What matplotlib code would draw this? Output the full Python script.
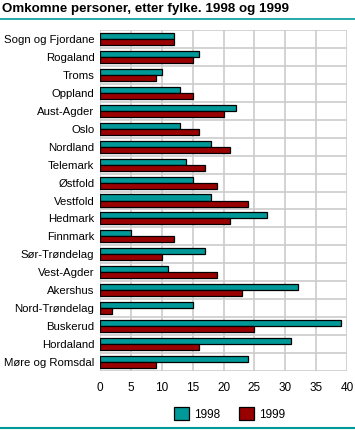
import numpy as np
import matplotlib
matplotlib.use("Agg")
import matplotlib.pyplot as plt
from matplotlib.lines import Line2D

plt.rcParams['font.family'] = ['Liberation Sans', 'DejaVu Sans']

# data (top to bottom as in the chart)
fylker = ["Sogn og Fjordane", "Rogaland", "Troms", "Oppland", "Aust-Agder", "Oslo",
          "Nordland", "Telemark", "Østfold", "Vestfold", "Hedmark", "Finnmark",
          "Sør-Trøndelag", "Vest-Agder", "Akershus", "Nord-Trøndelag", "Buskerud",
          "Hordaland", "Møre og Romsdal"]
v1998 = [12, 16, 10, 13, 22, 13, 18, 14, 15, 18, 27, 5, 17, 11, 32, 15, 39, 31, 24]
v1999 = [12, 15, 9, 15, 20, 16, 21, 17, 19, 24, 21, 12, 10, 19, 23, 2, 25, 16, 9]
xticks = [0, 5, 10, 15, 20, 25, 30, 35, 40]

teal = "#009999"
red = "#990000"

fig = plt.figure(figsize=(3.55, 4.3), dpi=100)
ax = fig.add_axes([100 / 355, 1 - 371 / 430, 247 / 355, 341 / 430])

n = len(fylker)
y = np.arange(n)
h = 0.335
ax.barh(y - h / 2, v1998, height=h, color=teal, edgecolor="black", linewidth=0.9,
        label="1998", zorder=3)
ax.barh(y + h / 2, v1999, height=h, color=red, edgecolor="black", linewidth=0.9,
        label="1999", zorder=3)

ax.set_xlim(0, 40)
ax.set_ylim(n - 0.5, -0.5)
ax.set_xticks(xticks)
ax.set_yticks(y)
ax.set_yticklabels(fylker, fontsize=8.2)
ax.tick_params(axis="x", labelsize=8.5, length=0, pad=8)
ax.tick_params(axis="y", length=0, pad=4)

# grid: vertical at ticks, horizontal between categories
for xv in xticks:
    ax.axvline(xv, color="#cccccc", linewidth=1.2, zorder=1)
for yb in np.arange(-0.5, n, 1.0):
    ax.axhline(yb, color="#cccccc", linewidth=1.2, zorder=1)
for s in ax.spines.values():
    s.set_visible(False)

fig.legend(loc="center", bbox_to_anchor=(230 / 355, 1 - 414 / 430), ncol=2,
           frameon=False, fontsize=8.5, handlelength=1.2, handleheight=1.2,
           columnspacing=1.6, handletextpad=0.5)

fig.text(2 / 355, 1 - 9 / 430, "Omkomne personer, etter fylke. 1998 og 1999",
         fontsize=9.6, fontweight="bold", va="center", ha="left")
fig.add_artist(Line2D([0, 1], [1 - 19 / 430] * 2, color=teal, linewidth=1.2,
                      transform=fig.transFigure))
fig.add_artist(Line2D([0, 1], [1 - 428 / 430] * 2, color=teal, linewidth=1.5,
                      transform=fig.transFigure))

fig.savefig("out.png", dpi=100)
